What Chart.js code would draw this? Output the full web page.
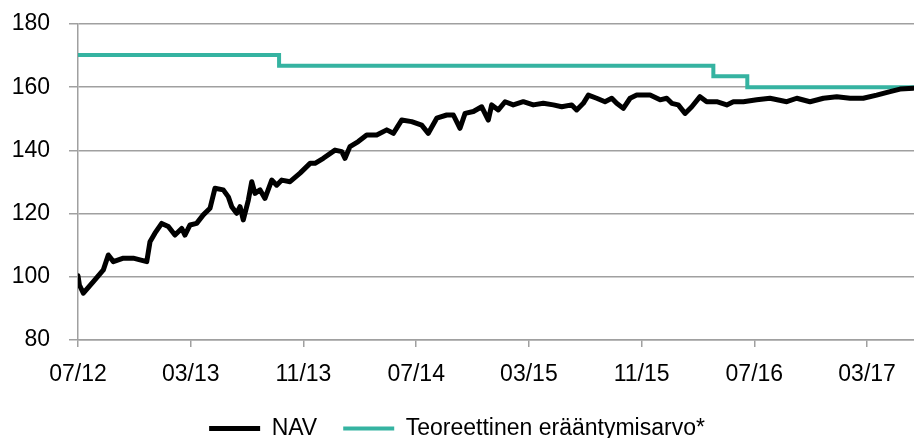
<!DOCTYPE html>
<html>
<head>
<meta charset="utf-8">
<script src="https://cdn.jsdelivr.net/npm/chart.js@4"></script>
<style>
  body { margin: 0; background: #fff; }
  #wrap { width: 914px; height: 438px; position: relative; }
</style>
</head>
<body>
<div id="wrap"><canvas id="nav_chart"></canvas></div>
<script>
// x = months since 07/2012
const tickLabels = ['07/12', '03/13', '11/13', '07/14', '03/15', '11/15', '07/16', '03/17'];

const navMonths = [
    0, 0.1, 0.38, 1.09, 1.8, 2.15, 2.51, 3.22, 3.92, 4.88, 5.11, 5.46, 5.94, 6.41, 6.88, 7.36, 7.59, 7.95,
    8.42, 8.89, 9.37, 9.72, 10.31, 10.67, 10.91, 11.26, 11.5, 11.73, 12.09, 12.33, 12.56, 12.92, 13.27,
    13.75, 14.1, 14.46, 15.05, 15.76, 16.47, 16.82, 17.41, 18.24, 18.72, 18.95, 19.3, 19.89, 20.49, 21.2,
    21.91, 22.38, 22.97, 23.68, 24.39, 24.86, 25.46, 26.17, 26.64, 27.11, 27.47, 28.06, 28.65, 29.12,
    29.36, 29.83, 30.31, 30.89, 31.6, 32.31, 33.02, 33.73, 34.33, 35.04, 35.39, 35.86, 36.22, 36.81,
    37.4, 37.88, 38.23, 38.7, 39.18, 39.65, 40.6, 41.31, 41.78, 42.14, 42.6, 43.08, 43.56, 44.14, 44.62,
    45.33, 46.04, 46.51, 47.22, 48.17, 49.11, 50.3, 51.01, 51.95, 52.9, 53.85, 54.79, 55.73, 56.68,
    57.63, 58.34, 59.28
];
const navValues = [
    100.3, 97.4, 94.8, 98.5, 102.2, 106.9, 104.8, 105.9, 105.9, 104.8, 111.1, 113.8, 116.9, 115.9, 113.2, 115.3, 113.2, 116.4,
    116.9, 119.6, 121.7, 128, 127.5, 125.3, 122.2, 120.1, 122.2, 118, 124.3, 130.1, 126.4, 127.5, 124.8,
    130.6, 129, 130.6, 130.1, 132.8, 135.9, 135.9, 137.5, 140.1, 139.6, 137.5, 141.2, 142.8, 144.9, 144.9,
    146.5, 145.4, 149.6, 149.1, 148, 145.4, 150.2, 151.2, 151.2, 147, 151.7, 152.3, 153.8, 149.6,
    154.4, 152.8, 155.4, 154.4, 155.4, 154.4, 154.9, 154.4, 153.8, 154.4, 152.8, 154.9, 157.5, 156.5,
    155.4, 156.5, 154.9, 153.3, 156.5, 157.5, 157.5, 156, 156.5, 154.9, 154.4, 151.7, 153.8, 157, 155.4,
    155.4, 154.4, 155.4, 155.4, 156, 156.5, 155.4, 156.5, 155.4, 156.5, 157, 156.5, 156.5, 157.5,
    158.6, 159.4, 159.7
];

// theoretical maturity value, held until the next change
const maturityMonths = [0, 14.27, 45.09, 47.5, 59.33];
const maturityValues = [170.2, 166.8, 163.5, 160, 160];

const gridColor = '#a0a0a0';
const fontSpec = { family: '"Liberation Sans", Arial, sans-serif', size: 23 };

const data_nav = {
    datasets: [{
        label: 'NAV',
        data: navMonths.map((m, i) => ({ x: m, y: navValues[i] })),
        borderColor: '#000000',
        backgroundColor: '#000000',
        borderWidth: 5,
        borderJoinStyle: 'round',
        borderCapStyle: 'round',
        pointRadius: 0,
        tension: 0
    }, {
        label: 'Teoreettinen erääntymisarvo*',
        data: maturityMonths.map((m, i) => ({ x: m, y: maturityValues[i] })),
        borderColor: '#35b3a1',
        backgroundColor: '#35b3a1',
        borderWidth: 4,
        borderCapStyle: 'round',
        stepped: 'before',
        pointRadius: 0
    }]
};

const config_nav = {
    type: 'line',
    data: data_nav,
    options: {
        responsive: true,
        maintainAspectRatio: false,
        animation: false,
        layout: { padding: { top: 24, right: 0, left: 0, bottom: -12 } },
        scales: {
            x: {
                type: 'linear',
                min: 0,
                max: 59.33,
                afterFit: (s) => { s.height = 51; },
                grid: { drawOnChartArea: false, drawTicks: true, tickLength: 7, color: gridColor, lineWidth: 1.5 },
                border: { color: gridColor, width: 1.5 },
                ticks: {
                    stepSize: 8,
                    includeBounds: false,
                    autoSkip: false,
                    maxRotation: 0,
                    padding: 14,
                    color: '#000',
                    font: fontSpec,
                    callback: (v) => tickLabels[Math.round(v / 8)] || ''
                }
            },
            y: {
                min: 80,
                max: 180,
                afterFit: (s) => { s.width = 78; s.paddingTop = 0; s.paddingBottom = 0; },
                grid: { color: gridColor, lineWidth: 1.5, tickLength: 9 },
                border: { color: gridColor, width: 1.5 },
                ticks: { stepSize: 20, padding: 19, color: '#000', font: fontSpec }
            }
        },
        plugins: {
            legend: {
                position: 'bottom',
                labels: {
                    usePointStyle: true,
                    pointStyle: 'line',
                    pointStyleWidth: 51,
                    padding: 26,
                    color: '#000',
                    font: fontSpec
                }
            },
            tooltip: { enabled: false }
        }
    }
};

const grafico_nav = new Chart(document.getElementById('nav_chart'), config_nav);
</script>
</body>
</html>
